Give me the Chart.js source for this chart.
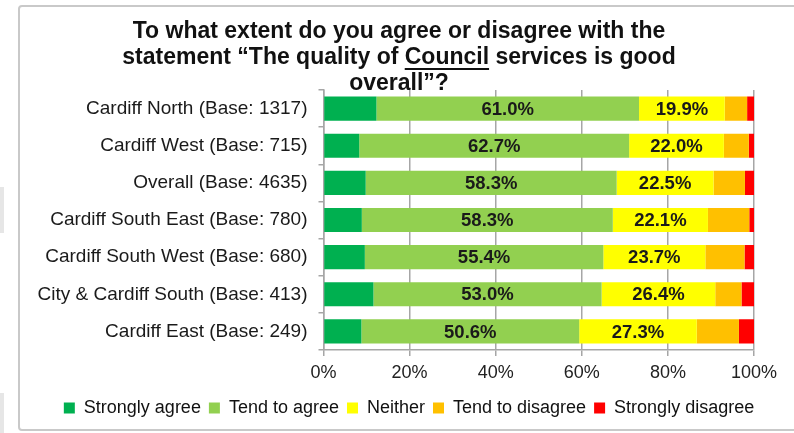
<!DOCTYPE html>
<html lang="en">
<head>
    <meta charset="UTF-8">
    <title>Quality of Council services</title>
    <script src="https://cdn.jsdelivr.net/npm/chart.js"></script>
    <style>
        body {
            margin: 0;
            background-color: #fff;
            font-family: Arial, "Liberation Sans", sans-serif;
        }
        .frame {
            position: absolute;
            left: 18px;
            top: 5px;
            width: 800px;
            height: 422px;
            border: 2px solid #c9c9c9;
            border-radius: 4px;
        }
        .side {
            position: absolute;
            left: 0;
            width: 4px;
            background-color: #e6e6e6;
        }
        #chart {
            position: absolute;
            left: 0;
            top: 0;
        }
    </style>
</head>
<body>
    <div class="side" style="top: 187px; height: 46px;"></div>
    <div class="side" style="top: 393px; height: 40px;"></div>
    <div class="frame"></div>
    <canvas id="chart" width="794" height="433"></canvas>
    <script>
        const areas = [
            'Cardiff North (Base: 1317)',
            'Cardiff West (Base: 715)',
            'Overall (Base: 4635)',
            'Cardiff South East (Base: 780)',
            'Cardiff South West (Base: 680)',
            'City & Cardiff South (Base: 413)',
            'Cardiff East (Base: 249)'
        ];
        const stronglyAgree = [12.3, 8.3, 9.8, 8.9, 9.6, 11.6, 8.8];
        const tendToAgree = [61.0, 62.7, 58.3, 58.3, 55.4, 53.0, 50.6];
        const neither = [19.9, 22.0, 22.5, 22.1, 23.7, 26.4, 27.3];
        const tendToDisagree = [5.2, 5.8, 7.3, 9.6, 9.1, 6.1, 9.8];
        const stronglyDisagree = [1.6, 1.2, 2.1, 1.1, 2.2, 2.9, 3.5];
        const xTicks = [0, 20, 40, 60, 80, 100];

        const titleLines = [
            'To what extent do you agree or disagree with the',
            'statement \u201CThe quality of Council services is good',
            'overall\u201D?'
        ];

        const font = 'Arial, "Liberation Sans", sans-serif';

        // title drawn by hand so "Council" can be underlined
        const titlePlugin = {
            id: 'questionTitle',
            afterDraw(chart) {
                const ctx = chart.ctx;
                const cx = 399;
                const ys = [32, 58, 84];
                ctx.save();
                ctx.font = 'bold 23px ' + font;
                ctx.fillStyle = '#111';
                ctx.textAlign = 'center';
                ctx.textBaseline = 'middle';
                titleLines.forEach((line, i) => ctx.fillText(line, cx, ys[i]));
                // underline under "Council"
                const line = titleLines[1];
                const full = ctx.measureText(line).width;
                const start = cx - full / 2 + ctx.measureText(line.slice(0, line.indexOf('Council'))).width;
                const w = ctx.measureText('Council').width;
                ctx.strokeStyle = '#111';
                ctx.lineWidth = 2;
                ctx.beginPath();
                ctx.moveTo(start, ys[1] + 11);
                ctx.lineTo(start + w, ys[1] + 11);
                ctx.stroke();
                ctx.restore();
            }
        };

        // percentage labels on the two middle segments
        const valueLabels = {
            id: 'valueLabels',
            afterDatasetsDraw(chart) {
                const ctx = chart.ctx;
                ctx.save();
                ctx.font = 'bold 18.5px ' + font;
                ctx.fillStyle = '#1a1a1a';
                ctx.textAlign = 'center';
                ctx.textBaseline = 'middle';
                [1, 2].forEach(di => {
                    const meta = chart.getDatasetMeta(di);
                    meta.data.forEach((bar, i) => {
                        const p = bar.getCenterPoint();
                        ctx.fillText(chart.data.datasets[di].data[i].toFixed(1) + '%', p.x, p.y + 1);
                    });
                });
                ctx.restore();
            }
        };

        // nudge the legend row to the right so it sits centred under the plot
        const legendShift = {
            id: 'legendShift',
            afterLayout(chart) {
                if (chart.legend) {
                    chart.legend.left += 27;
                    chart.legend.right += 27;
                }
            }
        };

        new Chart(document.getElementById('chart'), {
            type: 'bar',
            data: {
                labels: areas,
                datasets: [
                    { label: 'Strongly agree', data: stronglyAgree, backgroundColor: '#00b050' },
                    { label: 'Tend to agree', data: tendToAgree, backgroundColor: '#92d050' },
                    { label: 'Neither', data: neither, backgroundColor: '#ffff00' },
                    { label: 'Tend to disagree', data: tendToDisagree, backgroundColor: '#ffc000' },
                    { label: 'Strongly disagree', data: stronglyDisagree, backgroundColor: '#ff0000' }
                ]
            },
            options: {
                indexAxis: 'y',
                responsive: false,
                animation: false,
                categoryPercentage: 0.65,
                barPercentage: 1,
                layout: { padding: { top: 90, left: 10, right: 40, bottom: 6 } },
                scales: {
                    x: {
                        stacked: true,
                        min: 0,
                        max: 100,
                        afterBuildTicks(scale) {
                            scale.ticks = xTicks.map(v => ({ value: v }));
                        },
                        afterFit(scale) { scale.height = 41; },
                        grid: {
                            color: '#a6a6a6',
                            lineWidth: 1.5,
                            tickLength: 6
                        },
                        border: { color: '#a6a6a6', width: 1.5 },
                        ticks: {
                            padding: 6,
                            color: '#222',
                            font: { family: font, size: 18 },
                            callback: v => v + '%'
                        }
                    },
                    y: {
                        stacked: true,
                        afterFit(scale) { scale.width = 313.5; },
                        grid: {
                            drawOnChartArea: false,
                            color: '#a6a6a6',
                            lineWidth: 1.5,
                            tickLength: 5
                        },
                        border: { color: '#a6a6a6', width: 1.5 },
                        ticks: {
                            padding: 11,
                            color: '#1a1a1a',
                            font: { family: font, size: 19 }
                        }
                    }
                },
                plugins: {
                    legend: {
                        position: 'bottom',
                        labels: {
                            boxWidth: 11,
                            boxHeight: 11,
                            padding: 8,
                            color: '#111',
                            font: { family: font, size: 18 }
                        }
                    },
                    tooltip: { enabled: false }
                }
            },
            plugins: [titlePlugin, valueLabels, legendShift]
        });
    </script>
</body>
</html>
